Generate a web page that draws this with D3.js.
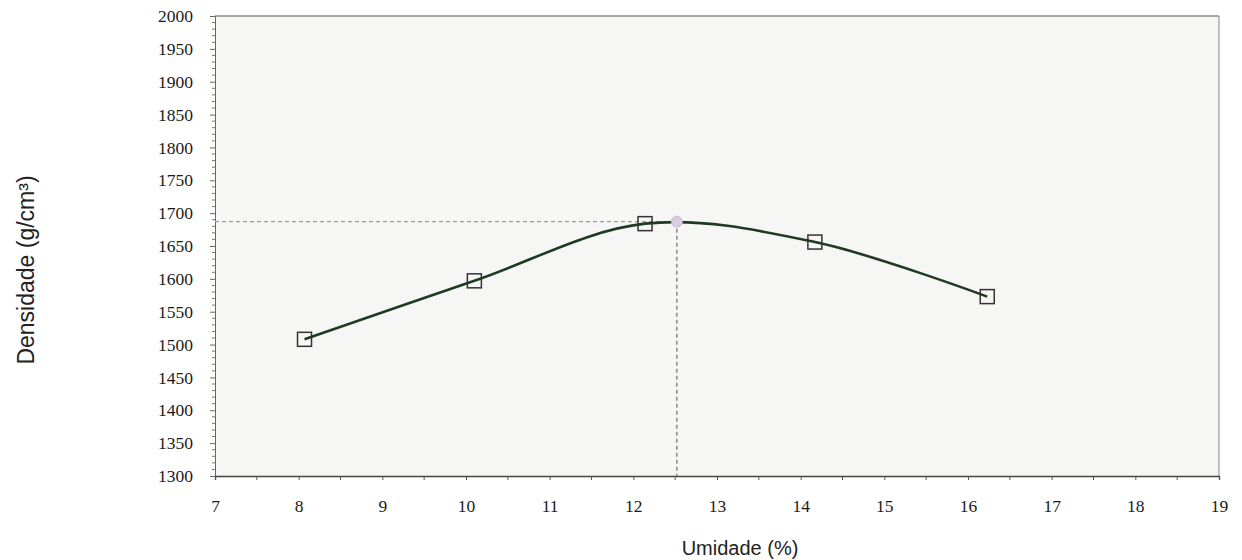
<!DOCTYPE html>
<html>
<head>
<meta charset="utf-8">
<script src="https://cdn.jsdelivr.net/npm/d3@7/dist/d3.min.js"></script>
<style>
  html, body { margin: 0; padding: 0; background: #ffffff; }
  svg { display: block; }
</style>
</head>
<body>
<svg id="chart" width="1242" height="560"></svg>
<script>
// Compaction test: moisture content (%) vs. dry density
const umidade   = [8.07, 10.10, 12.14, 14.17, 16.23];
const densidade = [1508, 1597, 1684, 1656, 1573];

// Optimum point (maximum of the compaction curve)
const otimoUmidade   = [12.52];
const otimoDensidade = [1687];

const xTicks = [7, 8, 9, 10, 11, 12, 13, 14, 15, 16, 17, 18, 19];
const yTicks = [1300, 1350, 1400, 1450, 1500, 1550, 1600, 1650, 1700, 1750, 1800, 1850, 1900, 1950, 2000];

const xTitle = "Umidade (%)";
const yTitle = "Densidade (g/cm³)";

const serif = "'Liberation Serif', 'Times New Roman', serif";
const sans = "'Liberation Sans', Arial, sans-serif";

const svg = d3.select("#chart");
const plot = { left: 215, right: 1219, top: 16, bottom: 476 };

const x = d3.scaleLinear().domain([7, 19]).range([plot.left, plot.right]);
const y = d3.scaleLinear().domain([1300, 2000]).range([plot.bottom, plot.top]);

// plot area background (light paper tone)
svg.append("rect")
  .attr("x", plot.left).attr("y", plot.top)
  .attr("width", plot.right - plot.left).attr("height", plot.bottom - plot.top)
  .attr("fill", "#f6f6f4");

// frame
svg.append("line").attr("x1", plot.left).attr("x2", plot.right).attr("y1", plot.top).attr("y2", plot.top)
  .attr("stroke", "#555").attr("stroke-width", 1.2);
svg.append("line").attr("x1", plot.right).attr("x2", plot.right).attr("y1", plot.top).attr("y2", plot.bottom)
  .attr("stroke", "#9a9a9a").attr("stroke-width", 1.2);

// y axis: major ticks every 50, minor every 10
const yAxis = d3.axisLeft(y).tickValues(yTicks).tickSize(5).tickPadding(17).tickFormat(d3.format("d"));
const gy = svg.append("g").attr("transform", `translate(${plot.left},0)`).call(yAxis);
gy.select(".domain").attr("stroke", "#666").attr("stroke-width", 1);
gy.selectAll(".tick line").attr("stroke", "#666");
gy.selectAll(".tick text")
  .style("font-family", serif).style("font-size", "17.5px").style("fill", "#1a1a1a");
const yMinor = d3.range(1300, 2001, 10).filter(v => v % 50 !== 0);
svg.append("g").selectAll("line").data(yMinor).join("line")
  .attr("x1", plot.left - 3).attr("x2", plot.left)
  .attr("y1", d => y(d)).attr("y2", d => y(d))
  .attr("stroke", "#777").attr("stroke-width", 1);

// x axis: labels on integers, ticks every 0.5
const xAxis = d3.axisBottom(x).tickValues(xTicks).tickSize(4).tickPadding(20).tickFormat(d3.format("d"));
const gx = svg.append("g").attr("transform", `translate(0,${plot.bottom})`).call(xAxis);
gx.select(".domain").attr("stroke", "#444").attr("stroke-width", 1.4);
gx.selectAll(".tick line").attr("stroke", "#555");
gx.selectAll(".tick text")
  .style("font-family", serif).style("font-size", "17.5px").style("fill", "#1a1a1a");
const xMinor = d3.range(7.5, 19, 1);
svg.append("g").selectAll("line").data(xMinor).join("line")
  .attr("x1", d => x(d)).attr("x2", d => x(d))
  .attr("y1", plot.bottom).attr("y2", plot.bottom + 4)
  .attr("stroke", "#555").attr("stroke-width", 1);

// dashed guide lines to the optimum
svg.append("line")
  .attr("x1", plot.left).attr("x2", x(otimoUmidade[0]))
  .attr("y1", y(otimoDensidade[0])).attr("y2", y(otimoDensidade[0]))
  .attr("stroke", "#9c98a8").attr("stroke-width", 1.3).attr("stroke-dasharray", "4,3");
svg.append("line")
  .attr("x1", x(otimoUmidade[0])).attr("x2", x(otimoUmidade[0]))
  .attr("y1", y(otimoDensidade[0])).attr("y2", plot.bottom)
  .attr("stroke", "#8a8890").attr("stroke-width", 1.5).attr("stroke-dasharray", "4,3");

// smoothed compaction curve
const pts = umidade.map((u, i) => [u, densidade[i]]);
const line = d3.line().x(d => x(d[0])).y(d => y(d[1])).curve(d3.curveCatmullRom.alpha(0.5));
svg.append("path").datum(pts)
  .attr("d", line)
  .attr("fill", "none").attr("stroke", "#1f3a22").attr("stroke-width", 2.6);

// optimum marker
svg.append("circle")
  .attr("cx", x(otimoUmidade[0])).attr("cy", y(otimoDensidade[0])).attr("r", 5.5)
  .attr("fill", "#d9cde3").attr("stroke", "#c8b8d6").attr("stroke-width", 1);

// square markers
const s = 14;
svg.append("g").selectAll("rect").data(pts).join("rect")
  .attr("x", d => x(d[0]) - s / 2).attr("y", d => y(d[1]) - s / 2)
  .attr("width", s).attr("height", s)
  .attr("fill", "none").attr("stroke", "#333").attr("stroke-width", 1.5);

// axis titles
svg.append("text")
  .attr("x", 740).attr("y", 555)
  .attr("text-anchor", "middle")
  .style("font-family", sans).style("font-size", "20px").style("fill", "#222")
  .text(xTitle);
svg.append("text")
  .attr("transform", "translate(34,270) rotate(-90)")
  .attr("text-anchor", "middle")
  .style("font-family", sans).style("font-size", "23px").style("fill", "#222")
  .text(yTitle);
</script>
</body>
</html>
